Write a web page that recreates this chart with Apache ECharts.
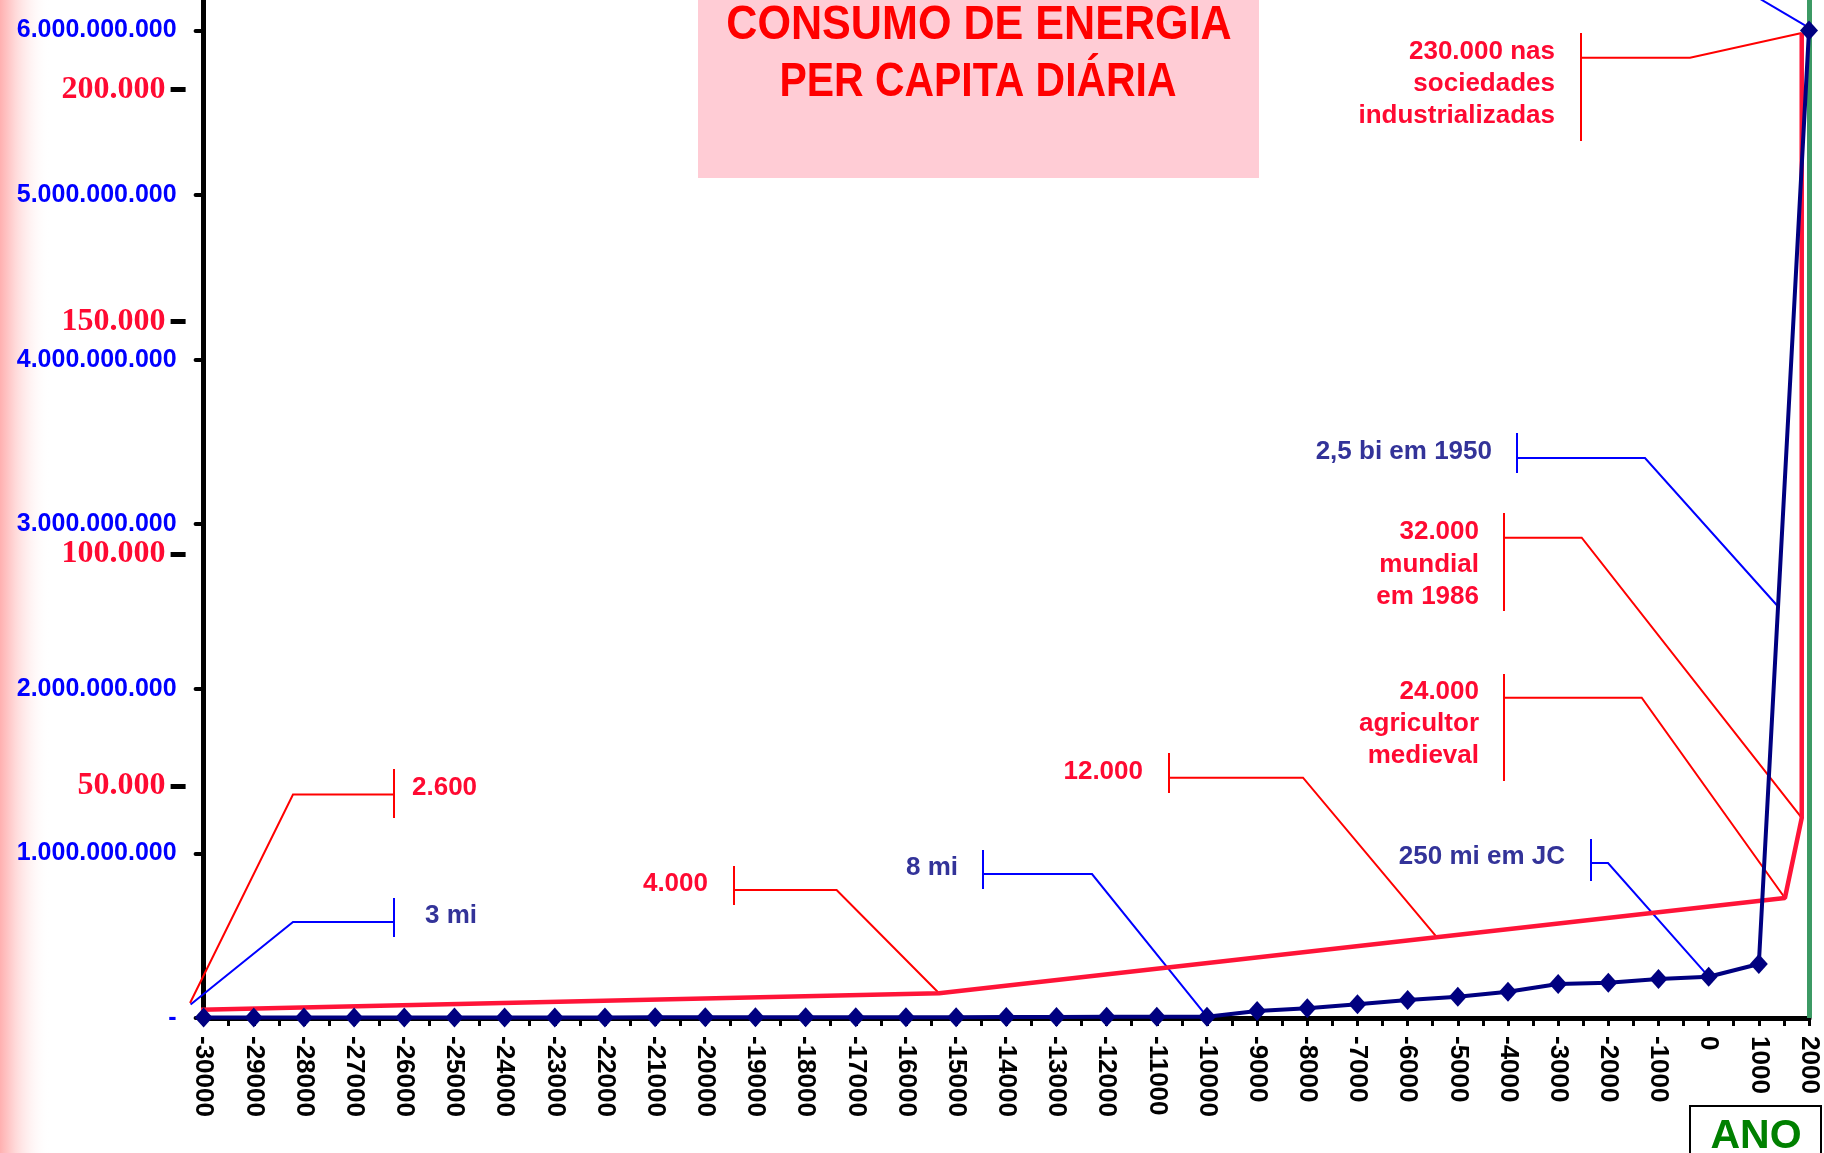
<!DOCTYPE html>
<html><head><meta charset="utf-8">
<script src="https://cdn.jsdelivr.net/npm/echarts@6/dist/echarts.min.js"></script>
<style>html,body{margin:0;padding:0;background:#fff}#c{width:1824px;height:1153px}</style>
</head><body><div id="c"></div>
<script>
// ---- data ----
const years = [-30000,-29000,-28000,-27000,-26000,-25000,-24000,-23000,-22000,-21000,-20000,
  -19000,-18000,-17000,-16000,-15000,-14000,-13000,-12000,-11000,-10000,
  -9000,-8000,-7000,-6000,-5000,-4000,-3000,-2000,-1000,0,1000,2000];
const population = [3000000,3000000,3000000,3000000,3000000,3000000,3000000,3000000,3000000,4000000,4000000,
  4000000,4000000,5000000,5000000,5000000,6000000,6000000,7000000,7000000,8000000,
  43000000,59000000,83000000,109000000,129000000,160000000,207000000,214000000,237000000,251000000,328000000,6000000000];
const energyYears = [-30350,-15340,1520,1855,1855];
const energyValues = [1720,5320,25850,43090,212200];
const populationTicks = [0,1000000000,2000000000,3000000000,4000000000,5000000000,6000000000];
const energyTicks = [50000,100000,150000,200000];
const titleLines = ['CONSUMO DE ENERGIA','PER CAPITA DIÁRIA'];
const xAxisName = 'ANO';

// ---- styles ----
const SANS = '"Liberation Sans", Arial, Helvetica, sans-serif';
const SERIF = '"Liberation Serif", "Times New Roman", serif';
const RED_LINE = '#FF1438', RED_TXT = '#FF0A32', RED_LEAD = '#FF0000';
const NAVY = '#000080', NAVY_TXT = '#333399', BLUE_LEAD = '#0000FF';

function dotted(v){ return v === 0 ? '-' : String(v).replace(/\B(?=(\d{3})+(?!\d))/g, '.'); }

const chart = echarts.init(document.getElementById('c'), null, {renderer:'canvas'});
chart.setOption({
  animation:false,
  backgroundColor:'#ffffff',
  grid:{left:203.6, right:15, top:0, bottom:135, containLabel:false, outerBoundsMode:'none'},
  xAxis:{type:'value', min:-30000, max:2000, interval:1000,
    axisLine:{show:true, onZero:false, lineStyle:{color:'#000', width:5}},
    axisTick:{show:true, length:8, lineStyle:{color:'#000', width:3}},
    minorTick:{show:true, splitNumber:2, length:8, lineStyle:{color:'#000', width:3}},
    splitLine:{show:false}, minorSplitLine:{show:false},
    axisLabel:{rotate:-90, margin:18, color:'#000', fontFamily:SANS, fontWeight:'bold', fontSize:26,
      formatter:v => String(v)}
  },
  yAxis:[
    {type:'value', min:0, max:6185000000, position:'left',
      axisLine:{show:true, onZero:false, lineStyle:{color:'#000', width:5}},
      axisTick:{show:true, length:8, customValues:populationTicks, lineStyle:{color:'#000', width:4, cap:'round'}},
      axisLabel:{customValues:populationTicks, margin:27, color:'#0000FF', fontFamily:SANS, fontWeight:'bold', fontSize:25, formatter:dotted},
      splitLine:{show:false}},
    {type:'value', min:0, max:219300, position:'left', offset:18,
      axisLine:{show:false, onZero:false},
      axisTick:{show:true, length:15, customValues:energyTicks, lineStyle:{color:'#000', width:5}},
      axisLabel:{customValues:energyTicks, margin:20, color:RED_TXT, fontFamily:SERIF, fontWeight:'bold', fontSize:32, formatter:dotted},
      splitLine:{show:false}}
  ],
  series:[
    {type:'line', name:'População', xAxisIndex:0, yAxisIndex:0, z:5, clip:false, silent:true,
      data:years.map((y,i)=>[y, population[i]]),
      symbol:'diamond', symbolSize:[18,20], showSymbol:true,
      itemStyle:{color:NAVY}, lineStyle:{color:NAVY, width:4}},
    {type:'line', name:'Energia', xAxisIndex:0, yAxisIndex:1, z:4, clip:false, silent:true,
      data:energyYears.map((y,i)=>[y, energyValues[i]]),
      symbol:'none', lineStyle:{color:RED_LINE, width:4.5}},
    {type:'line', xAxisIndex:0, yAxisIndex:0, z:1, silent:true, data:[[2000,0]], symbol:'none',
      lineStyle:{opacity:0},
      markLine:{silent:true, symbol:['none','none'], label:{show:false}, animation:false,
        lineStyle:{color:'#3C9A64', width:5, type:'solid'}, data:[{xAxis:2000}]}}
  ]
});

// ---- annotations ----
const P = (x,y) => chart.convertToPixel({seriesIndex:0}, [x,y]);
const E = (x,y) => chart.convertToPixel({seriesIndex:1}, [x,y]);

function leader(barX, barY1, barY2, hY, elbowX, target, color){
  return [
    {type:'line', z:1, shape:{x1:barX, y1:barY1, x2:barX, y2:barY2}, style:{stroke:color, lineWidth:2}},
    {type:'polyline', z:1, shape:{points:[[barX,hY],[elbowX,hY],[target[0],target[1]]]}, style:{stroke:color, lineWidth:2, fill:null}}
  ];
}
function label(x, y, text, color, align){
  return {type:'text', x:x, y:y, z:10, style:{text:text, fill:color, font:'bold 26px ' + SANS, align:align, verticalAlign:'middle'}};
}
function lerp(a, b, t){ return [a[0] + (b[0]-a[0])*t, a[1] + (b[1]-a[1])*t]; }

const g = [];
// background strip & title box
g.push({type:'rect', z:-10, shape:{x:0, y:0, width:50, height:1153},
  style:{fill:new echarts.graphic.LinearGradient(0,0,1,0,[{offset:0,color:'#FFB0B0'},{offset:0.3,color:'#FFD8D8'},{offset:1,color:'rgba(255,255,255,0)'}])}});
g.push({type:'rect', z:-5, shape:{x:698, y:-5, width:561, height:183}, style:{fill:'#FFCCD5'}});
g.push({type:'text', x:979, y:25, scaleX:0.88, z:10, style:{text:titleLines[0], fill:'#FF0000', font:'bold 49px ' + SANS, align:'center', verticalAlign:'middle'}});
g.push({type:'text', x:978, y:82, scaleX:0.835, z:10, style:{text:titleLines[1], fill:'#FF0000', font:'bold 49px ' + SANS, align:'center', verticalAlign:'middle'}});
// ANO box
g.push({type:'rect', z:5, shape:{x:1690, y:1106, width:131, height:60}, style:{fill:'#fff', stroke:'#000', lineWidth:2}});
g.push({type:'text', x:1756, y:1137, z:10, style:{text:xAxisName, fill:'#008000', font:'bold 41px ' + SANS, align:'center', verticalAlign:'middle'}});

// 2.600
const rs = E(energyYears[0], energyValues[0]);
g.push(...leader(394, 769, 818, 794.5, 293, [rs[0]+4, rs[1]-7], RED_LEAD));
g.push(label(412, 787.5, '2.600', RED_TXT, 'left'));
// 3 mi
const p0 = P(years[0], population[0]);
g.push(...leader(394, 898, 937, 922, 293, [p0[0]-13, p0[1]-13], BLUE_LEAD));
g.push(label(425, 916, '3 mi', NAVY_TXT, 'left'));
// 4.000
g.push(...leader(734, 866, 905, 890, 836.6, E(energyYears[1], energyValues[1]), RED_LEAD));
g.push(label(708, 883.5, '4.000', RED_TXT, 'right'));
// 8 mi
g.push(...leader(983, 850, 889, 874, 1092, P(years[20], population[20]), BLUE_LEAD));
g.push(label(958, 868, '8 mi', NAVY_TXT, 'right'));
// 12.000 (point on the red line)
const a1 = E(energyYears[1], energyValues[1]), a2 = E(energyYears[2], energyValues[2]);
const t12 = (-5420 - energyYears[1]) / (energyYears[2] - energyYears[1]);
g.push(...leader(1169, 753, 793, 777.7, 1303, lerp(a1, a2, t12), RED_LEAD));
g.push(label(1143, 772, '12.000', RED_TXT, 'right'));
// 250 mi em JC
g.push(...leader(1591, 839, 881, 863, 1608, P(years[30], population[30]), BLUE_LEAD));
g.push(label(1565, 857, '250 mi em JC', NAVY_TXT, 'right'));
// 24.000
g.push(...leader(1504, 674, 781, 697.7, 1641.7, E(energyYears[2], energyValues[2]), RED_LEAD));
g.push(label(1479, 691.7, '24.000', RED_TXT, 'right'));
g.push(label(1479, 724, 'agricultor', RED_TXT, 'right'));
g.push(label(1479, 756, 'medieval', RED_TXT, 'right'));
// 32.000
g.push(...leader(1504, 513, 611, 537.7, 1581.7, E(energyYears[3], energyValues[3]), RED_LEAD));
g.push(label(1479, 532, '32.000', RED_TXT, 'right'));
g.push(label(1479, 564.5, 'mundial', RED_TXT, 'right'));
g.push(label(1479, 597, 'em 1986', RED_TXT, 'right'));
// 2,5 bi em 1950 (point on the blue line)
const b1 = P(years[31], population[31]), b2 = P(years[32], population[32]);
const t25 = (2500000000 - population[31]) / (population[32] - population[31]);
g.push(...leader(1517, 433, 473, 458, 1645, lerp(b1, b2, t25), BLUE_LEAD));
g.push(label(1492, 452, '2,5 bi em 1950', NAVY_TXT, 'right'));
// 230.000
g.push(...leader(1581, 33, 141, 57.7, 1690, E(energyYears[4], energyValues[4]), RED_LEAD));
g.push(label(1555, 52.3, '230.000 nas', RED_TXT, 'right'));
g.push(label(1555, 84, 'sociedades', RED_TXT, 'right'));
g.push(label(1555, 116, 'industrializadas', RED_TXT, 'right'));
// leader to 2000 point going off the top
const pe = P(years[32], population[32]);
g.push({type:'line', z:1, shape:{x1:pe[0]-4, y1:pe[1]-5, x2:pe[0]-92, y2:pe[1]-57}, style:{stroke:BLUE_LEAD, lineWidth:2}});

chart.setOption({graphic:{elements:g}});
</script>
</body></html>
